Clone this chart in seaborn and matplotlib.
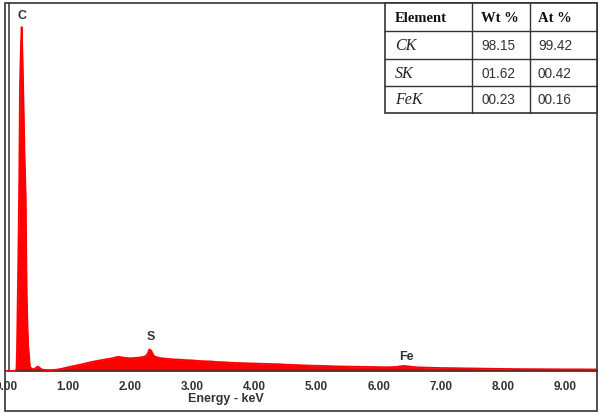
import matplotlib
matplotlib.use("Agg")
import matplotlib.pyplot as plt
from matplotlib.patches import Rectangle
import seaborn as sns
import pandas as pd

# ---- data ----
energy_kev = [0.00, 0.10, 0.15, 0.169, 0.177, 0.198, 0.214, 0.225, 0.242, 0.253,
              0.266, 0.279, 0.298, 0.317, 0.333, 0.346, 0.359, 0.386, 0.435,
              0.47, 0.50, 0.515, 0.53, 0.56, 0.60, 0.70, 0.80, 0.90,
              1.00, 1.10, 1.20, 1.30, 1.40, 1.50, 1.60, 1.70, 1.80, 1.90,
              2.00, 2.10, 2.20, 2.25, 2.28, 2.31, 2.34, 2.37, 2.40, 2.50,
              2.60, 2.70, 2.80, 2.90, 3.00, 3.10, 3.20, 3.30, 3.40, 3.50,
              3.60, 3.70, 3.80, 3.90, 4.00, 4.10, 4.20, 4.30, 4.40, 4.50,
              4.60, 4.70, 4.80, 4.90, 5.00, 5.10, 5.20, 5.30, 5.40, 5.50,
              5.60, 5.70, 5.80, 5.90, 6.00, 6.10, 6.20, 6.30, 6.40, 6.50,
              6.60, 6.70, 6.80, 6.90, 7.00, 7.20, 7.40, 7.60, 7.80, 8.00,
              8.30, 8.60, 9.00, 9.30, 9.55]
counts = [0.0, 0.0, 0.005, 0.02, 0.28, 1.48, 2.6, 3.8, 4.4, 4.6,
          4.2, 3.7, 2.9, 2.33, 1.04, 0.6, 0.32, 0.05, 0.02,
          0.035, 0.055, 0.058, 0.05, 0.03, 0.015, 0.012, 0.016, 0.03,
          0.05, 0.068, 0.085, 0.105, 0.125, 0.14, 0.155, 0.168, 0.19, 0.178,
          0.17, 0.176, 0.185, 0.2, 0.23, 0.29, 0.27, 0.215, 0.19, 0.17,
          0.163, 0.155, 0.152, 0.145, 0.142, 0.135, 0.13, 0.128, 0.12, 0.117,
          0.112, 0.108, 0.105, 0.102, 0.10, 0.097, 0.095, 0.092, 0.09, 0.085,
          0.082, 0.078, 0.075, 0.072, 0.07, 0.068, 0.065, 0.062, 0.06, 0.059,
          0.057, 0.056, 0.055, 0.053, 0.052, 0.05, 0.051, 0.056, 0.068, 0.06,
          0.05, 0.047, 0.045, 0.042, 0.04, 0.038, 0.035, 0.033, 0.03, 0.028,
          0.025, 0.024, 0.022, 0.022, 0.02]

x_ticks = [0, 1, 2, 3, 4, 5, 6, 7, 8, 9]
x_tick_labels = ["0.00", "1.00", "2.00", "3.00", "4.00", "5.00", "6.00", "7.00", "8.00", "9.00"]
y_ticks = [1, 2, 3, 4]

peak_names = ["C", "S", "Fe"]
peak_energy = [0.25, 2.33, 6.44]
peak_label_height = [4.75, 0.45, 0.19]

table_elements = ["CK", "SK", "FeK"]
table_wt = ["98.15", "01.62", "00.23"]
table_at = ["99.42", "00.42", "00.16"]
table_header = ["Element", "Wt %", "At %"]

# ---- figure ----
W, H = 600, 415
fig = plt.figure(figsize=(6.0, 4.15), dpi=100)
sns.set_style("white")
plt.rcParams["font.family"] = ["Liberation Sans", "DejaVu Sans"]

def fx(px):
    return px / W

def fy(py):
    return 1 - py / H

x0_px, x_end_px = 6, 597
y0_px, ytop_px = 371, 3
px_per_kev = 62.1
px_per_unit = 74.75

ax = fig.add_axes([fx(x0_px), fy(y0_px), fx(x_end_px) - fx(x0_px), fy(ytop_px) - fy(y0_px)])
df = pd.DataFrame({"energy": energy_kev, "counts": counts})
red = "#ff0000"
ax.fill_between(df["energy"], 0, df["counts"], color=red, lw=0, zorder=2)
sns.lineplot(data=df, x="energy", y="counts", ax=ax, color=red, lw=1.3, zorder=3)

ax.set_xlim(0, (x_end_px - x0_px) / px_per_kev)
ax.set_ylim(0, (y0_px - ytop_px) / px_per_unit)

for s in ["top", "right"]:
    ax.spines[s].set_visible(False)
for s in ["left", "bottom"]:
    ax.spines[s].set_color("#333333")
    ax.spines[s].set_linewidth(1.1)
ax.spines["left"].set_position(("data", 2.5 / px_per_kev))

ax.set_xticks(x_ticks)
ax.set_xticklabels(x_tick_labels, fontsize=8.5, fontweight="bold", color="#333333")
ax.set_yticks(y_ticks)
ax.set_yticklabels([])
ax.tick_params(axis="x", direction="out", length=5, width=1.0, color="#333333", pad=2.5)
ax.tick_params(axis="y", direction="out", length=3, width=1.0, color="#333333")
ax.set_ylabel("")
ax.set_xlabel("Energy - keV", fontsize=9, fontweight="bold", color="#333333")
ax.xaxis.set_label_coords((226 - x0_px) / (x_end_px - x0_px), -(399 - y0_px) / (y0_px - ytop_px))
ax.xaxis.label.set_verticalalignment("center")

for name, e, h in zip(peak_names, peak_energy, peak_label_height):
    ax.text(e, h, name, ha="center", va="center", fontsize=9, fontweight="bold", color="#333333")

# ---- overlay for frame and table ----
ov = fig.add_axes([0, 0, 1, 1], zorder=5)
ov.set_xlim(0, W)
ov.set_ylim(H, 0)
ov.axis("off")
ov.patch.set_alpha(0)

ov.add_patch(Rectangle((5, 3), 592, 408, fill=False, ec="#333333", lw=1.2))

col_x = [385, 472, 530, 597]
row_y = [3, 31.5, 59.5, 86.5, 113]
ov.add_patch(Rectangle((col_x[0], row_y[0]), col_x[-1] - col_x[0], row_y[-1] - row_y[0],
                       fc="white", ec="#333333", lw=1.2))
for cx in col_x[1:-1]:
    ov.plot([cx, cx], [row_y[0], row_y[-1]], color="#333333", lw=1.0)
for ry in row_y[1:-1]:
    ov.plot([col_x[0], col_x[-1]], [ry, ry], color="#333333", lw=1.0)

text_x = [395, 481, 538]
serif = ["Liberation Serif", "DejaVu Serif"]
for i, t in enumerate(table_header):
    ov.text(text_x[i], (row_y[0] + row_y[1]) / 2 + 1, t, ha="left", va="center",
            fontsize=10.5, fontweight="bold", family=serif, color="#111111")
for r in range(len(table_elements)):
    cy = (row_y[r + 1] + row_y[r + 2]) / 2 + 0.5
    ov.text(text_x[0], cy, table_elements[r], ha="left", va="center", fontsize=11.5,
            style="italic", family=serif, color="#222222")
    ov.text(text_x[1], cy, table_wt[r], ha="left", va="center", fontsize=9.8, color="#333333")
    ov.text(text_x[2], cy, table_at[r], ha="left", va="center", fontsize=9.8, color="#333333")

fig.savefig("out.png", dpi=100)
